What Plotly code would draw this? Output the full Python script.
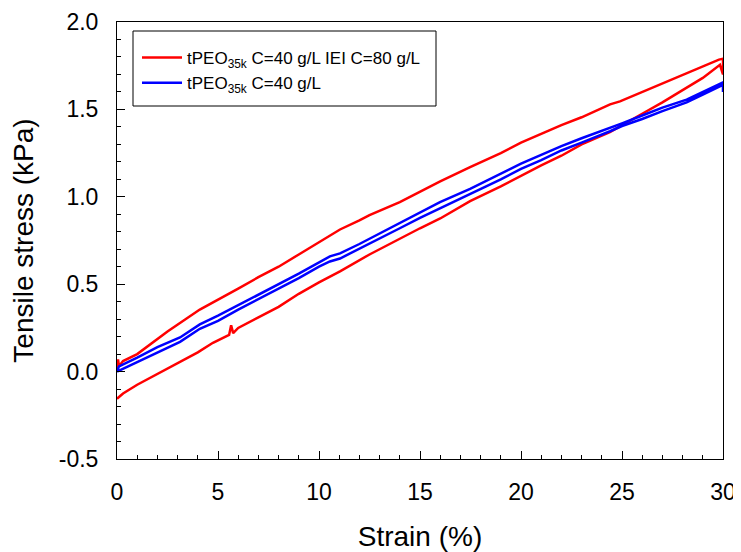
import plotly.graph_objects as go

# Red: tPEO35k C=40 g/L IEI C=80 g/L (loading then unloading)
red_strain = [0, 0.05, 0.1, 0.3, 1, 2.5, 4.1, 5, 6, 7, 8, 9, 10, 10.54, 11.04, 12, 12.5, 14, 15, 16,
              17.48, 19, 20, 21, 22, 23, 23.9, 24.41, 24.9, 26, 27, 28, 29, 29.8, 30,
              30, 29.85, 29, 28, 27, 26, 25, 24.4, 23, 22, 21, 20, 19, 17.48, 16, 15, 14,
              12.5, 11.04, 10.54, 10, 9, 8, 7, 6, 5.75, 5.65, 5.55, 4.75, 4, 3.12, 2, 1, 0.3, 0]
red_stress = [0.02, 0.07, 0.03, 0.06, 0.10, 0.23, 0.355, 0.41, 0.475, 0.54, 0.60, 0.67, 0.74, 0.773, 0.813,
              0.865, 0.895, 0.97, 1.03, 1.088, 1.17, 1.25, 1.31, 1.36, 1.41, 1.455, 1.50, 1.529, 1.546,
              1.60, 1.65, 1.70, 1.745, 1.785, 1.79,
              1.70, 1.755, 1.68, 1.61, 1.54, 1.475, 1.41, 1.37, 1.30, 1.235, 1.18,
              1.12, 1.06, 0.975, 0.876, 0.82, 0.76, 0.67, 0.573, 0.544, 0.51, 0.445, 0.37, 0.31,
              0.25, 0.22, 0.265, 0.21, 0.165, 0.11, 0.057, -0.01, -0.075, -0.125, -0.155]

# Blue: tPEO35k C=40 g/L
blue_strain = [0, 0.1, 1, 2, 3.12, 4.1, 5, 6, 7, 8, 9, 10.54, 11.04, 12, 13, 14, 15, 15.99, 17.48, 19,
               20, 21, 22, 23, 24.41, 25, 26, 27, 28.2, 29, 30,
               30, 30, 29, 28.2, 27, 26, 25, 24.41, 23, 22, 21, 20, 19, 17.48, 15.99, 15, 14, 13, 12,
               11.04, 10.54, 10, 9, 8, 7, 6, 5, 4.1, 3.12, 2, 1, 0.3, 0]
blue_stress = [0.0, 0.03, 0.08, 0.14, 0.195, 0.27, 0.32, 0.38, 0.44, 0.50, 0.56, 0.659, 0.676, 0.73,
               0.79, 0.85, 0.91, 0.97, 1.045, 1.13, 1.19, 1.24, 1.29, 1.335, 1.392, 1.42, 1.465,
               1.51, 1.556, 1.60, 1.655,
               1.60, 1.64, 1.585, 1.54, 1.49, 1.445, 1.405, 1.375, 1.31, 1.265, 1.21, 1.16, 1.10,
               1.017, 0.934, 0.88, 0.82, 0.76, 0.70, 0.647, 0.63, 0.60, 0.535, 0.475, 0.415, 0.355,
               0.29, 0.245, 0.17, 0.11, 0.055, 0.015, 0.0]

x_ticks = [0, 5, 10, 15, 20, 25, 30]
y_ticks = [-0.5, 0.0, 0.5, 1.0, 1.5, 2.0]
y_tick_text = ["-0.5", "0.0", "0.5", "1.0", "1.5", "2.0"]

FONT = "Liberation Sans, Arial, sans-serif"

fig = go.Figure()
fig.add_trace(go.Scatter(x=red_strain, y=red_stress, mode="lines",
                         name="tPEO<sub>35k</sub> C=40 g/L IEI C=80 g/L",
                         line=dict(color="#ff0000", width=2.5)))
fig.add_trace(go.Scatter(x=blue_strain, y=blue_stress, mode="lines",
                         name="tPEO<sub>35k</sub> C=40 g/L",
                         line=dict(color="#0000ff", width=2.5)))

axis_common = dict(showgrid=False, zeroline=False, showline=True, linecolor="black",
                   linewidth=1, mirror=True, ticks="inside", tickcolor="black",
                   tickwidth=1, ticklen=8, automargin=False,
                   tickfont=dict(family=FONT, size=23, color="black"))

fig.update_xaxes(range=[0, 30], tickvals=x_ticks,
                 minor=dict(dtick=1, ticks="inside", ticklen=4, tickcolor="black"),
                 title=dict(text="Strain (%)", font=dict(family=FONT, size=28, color="black"),
                            standoff=22),
                 ticklabelstandoff=12, **axis_common)
fig.update_yaxes(range=[-0.5, 2.0], tickvals=y_ticks, ticktext=y_tick_text,
                 minor=dict(dtick=0.1, ticks="inside", ticklen=4, tickcolor="black"),
                 title=dict(text="Tensile stress (kPa)", font=dict(family=FONT, size=28, color="black"),
                            standoff=16),
                 ticklabelstandoff=13, **axis_common)

# plot area in figure coordinates: x 109..715 (width 606), y 14..451 (height 437)
fig.add_shape(type="rect", xref="paper", yref="paper",
              x0=(125 - 109) / 606, x1=(428 - 109) / 606,
              y0=(451 - 98) / 437, y1=(451 - 23) / 437,
              line=dict(color="black", width=1), fillcolor="rgba(0,0,0,0)")

fig.update_layout(
    width=733, height=544,
    margin=dict(l=109, r=18, t=14, b=93),
    plot_bgcolor="white", paper_bgcolor="white",
    font=dict(family=FONT, color="black"),
    legend=dict(x=(129 - 109) / 606, y=(451 - 32) / 437, xanchor="left", yanchor="top",
                bgcolor="rgba(0,0,0,0)", borderwidth=0, itemwidth=40,
                font=dict(family=FONT, size=17, color="black"), tracegroupgap=0),
    showlegend=True,
)

fig.write_html("out.html")
